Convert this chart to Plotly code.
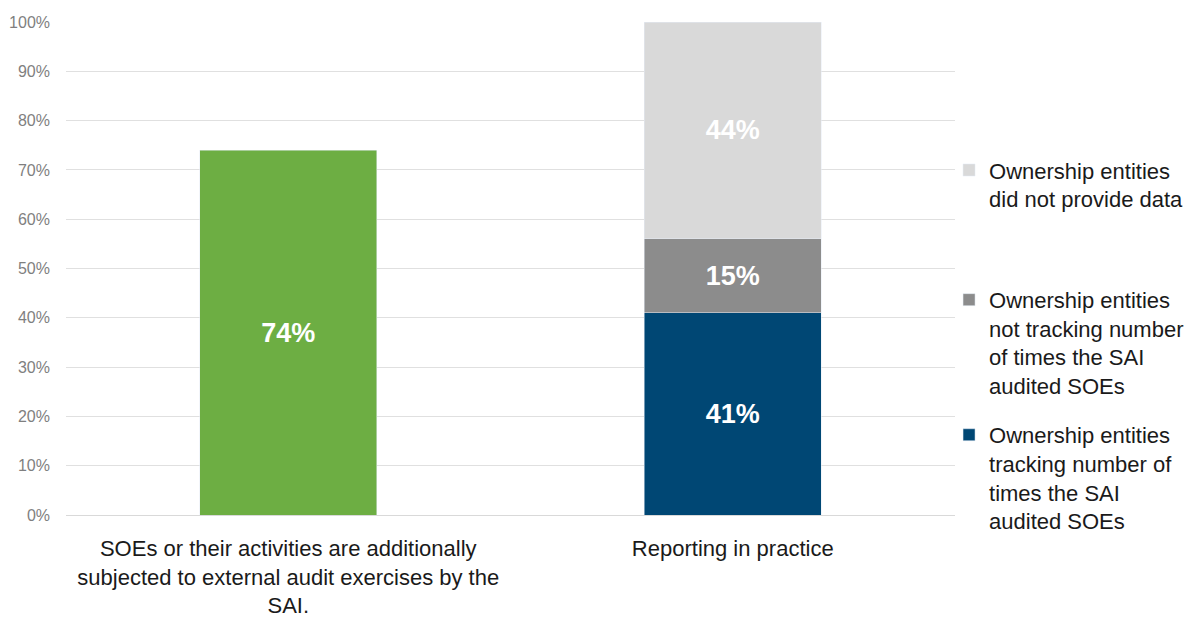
import plotly.graph_objects as go

# Categories and values (percent of respondents)
categories = [
    "SOEs or their activities are additionally<br>subjected to external audit exercises by the<br>SAI.",
    "Reporting in practice",
]
additional_audit = [74, None]
tracking = [None, 41]
not_tracking = [None, 15]
no_data = [None, 44]

series_names = [
    "Ownership entities<br>tracking number of<br>times the SAI<br>audited SOEs",
    "Ownership entities<br>not tracking number<br>of times the SAI<br>audited SOEs",
    "Ownership entities<br>did not provide data",
]
tick_vals = [0, 10, 20, 30, 40, 50, 60, 70, 80, 90, 100]
tick_text = [f"{v}%" for v in tick_vals]

FONT = "Liberation Sans Narrow, Arial Narrow, Liberation Sans, Arial, sans-serif"
GREEN = "#6DAE43"
BLUE = "#004774"
MID_GRAY = "#8C8C8C"
LIGHT_GRAY = "#D9D9D9"


def pct_labels(vals):
    return [f"<b>{v}%</b>" if v is not None else "" for v in vals]


label_font = dict(family=FONT, size=27, color="white")
common = dict(
    x=categories,
    textposition="inside",
    insidetextanchor="middle",
    textangle=0,
    insidetextfont=label_font,
    width=0.398,
    hoverinfo="skip",
)

fig = go.Figure()
fig.add_trace(go.Bar(y=additional_audit, text=pct_labels(additional_audit),
                     marker_color=GREEN, showlegend=False, name="SAI audit", **common))
fig.add_trace(go.Bar(y=tracking, text=pct_labels(tracking), marker_color=BLUE,
                     name=series_names[0], legend="legend3", **common))
fig.add_trace(go.Bar(y=not_tracking, text=pct_labels(not_tracking), marker_color=MID_GRAY,
                     name=series_names[1], legend="legend2", **common))
fig.add_trace(go.Bar(y=no_data, text=pct_labels(no_data), marker_color=LIGHT_GRAY,
                     name=series_names[2], legend="legend", **common))

legend_common = dict(
    xref="paper", yref="paper", xanchor="left", yanchor="top",
    font=dict(family=FONT, size=22, color="#1a1a1a"),
    bgcolor="rgba(0,0,0,0)", valign="top", itemclick=False, itemdoubleclick=False,
    itemwidth=30,
)

fig.update_layout(
    width=1187, height=620,
    margin=dict(l=66, r=232, t=22, b=105, autoexpand=False),
    barmode="stack",
    plot_bgcolor="white", paper_bgcolor="white",
    font=dict(family=FONT),
    uniformtext=dict(mode="show", minsize=10),
    legend=dict(x=0.9933, y=0.742, **legend_common),
    legend2=dict(x=0.9933, y=0.479, **legend_common),
    legend3=dict(x=0.9933, y=0.205, **legend_common),
    xaxis=dict(
        showgrid=False, showline=False, ticks="", ticklabelstandoff=18,
        tickfont=dict(family=FONT, size=22, color="#1a1a1a"),
        fixedrange=True,
    ),
    yaxis=dict(
        range=[0, 100], tickvals=tick_vals, ticktext=tick_text,
        showgrid=True, gridcolor="#E0E0E0", gridwidth=1,
        zeroline=True, zerolinecolor="#D9D9D9", zerolinewidth=1,
        showline=False, ticks="", ticklabelstandoff=15,
        tickfont=dict(family=FONT, size=16, color="#7F7F7F"),
        fixedrange=True,
    ),
)

fig.write_html("out.html")
